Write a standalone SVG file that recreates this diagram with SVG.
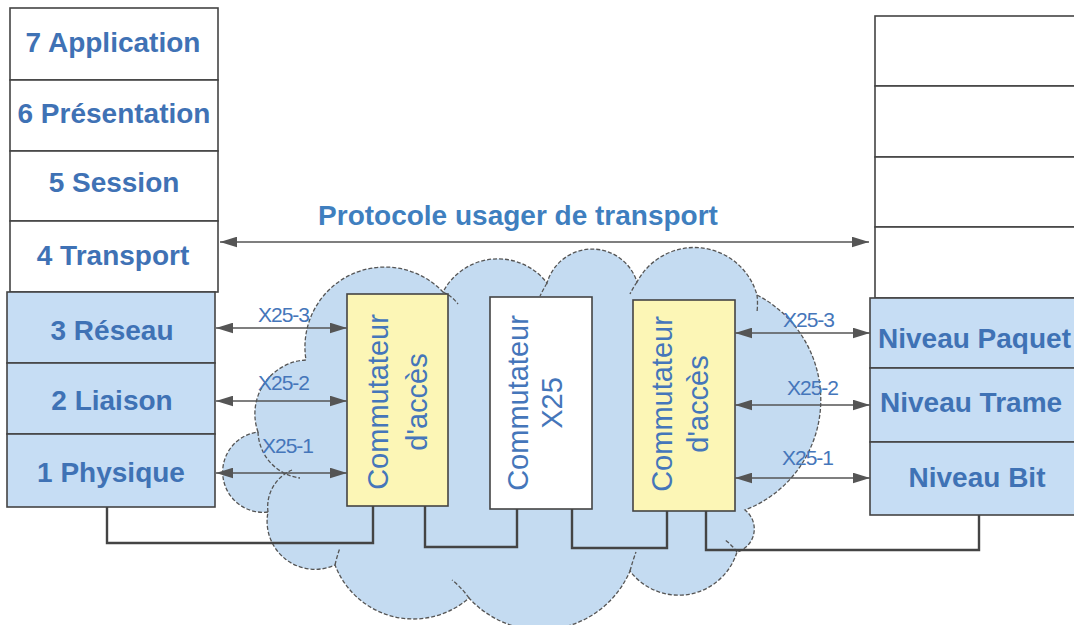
<svg xmlns="http://www.w3.org/2000/svg" width="1074" height="625" viewBox="0 0 1074 625">
<defs>
<marker id="ah" viewBox="0 0 16 10" refX="16" refY="5" markerWidth="17" markerHeight="11" markerUnits="userSpaceOnUse" orient="auto-start-reverse">
<path d="M0,0 L16,5 L0,10 z" fill="#555"/>
</marker>
<style>
.lay{stroke:#444;stroke-width:1.6}
.w{fill:#fff}
.b{fill:#c6ddf4}
.y{fill:#fcf6b6}
.t{font-family:"Liberation Sans",Arial,sans-serif;font-weight:bold;font-size:28px;fill:#3f72b5;text-anchor:middle}
.tl{font-family:"Liberation Sans",Arial,sans-serif;font-weight:bold;font-size:28px;fill:#3f72b5}
.sw{font-family:"Liberation Sans",Arial,sans-serif;font-size:29px;fill:#4576ba;text-anchor:middle}
.x{font-family:"Liberation Sans",Arial,sans-serif;font-size:21px;fill:#4576ba;letter-spacing:-1px}
.arr{stroke:#555;stroke-width:1.6;fill:none;marker-start:url(#ah);marker-end:url(#ah)}
.con{stroke:#444;stroke-width:2.4;fill:none}
.cl{fill:#c4dbf1;stroke:#555;stroke-width:1.3;stroke-dasharray:4 2}
.ci{fill:none;stroke:#555;stroke-width:1.3;stroke-dasharray:4 2}
</style>
</defs>
<rect width="1074" height="625" fill="#fff"/>

<g id="cloud">
<path class="cl" d="M258 432 A54 54 0 0 1 306 360 A80 80 0 0 1 443 292 A62 62 0 0 1 547 283 A47 47 0 0 1 637 282 A65 65 0 0 1 757 295 A118 118 0 0 1 745 510 A24 24 0 0 1 737 552 A61 61 0 0 1 630 571 A97 97 0 0 1 469 598 A84 84 0 0 1 335 565 A48 48 0 0 1 268 512 A37 37 0 0 1 258 432 Z"/>
<path class="ci" d="M258 432 A48 48 0 0 0 300 478"/>
<path class="ci" d="M268 512 A40 40 0 0 1 292 470"/>
<path class="ci" d="M443 292 Q452 296 458 304"/>
<path class="ci" d="M547 283 Q543 290 540 296"/>
<path class="ci" d="M637 282 Q633 288 630 294"/>
<path class="ci" d="M757 295 Q758 303 757 312"/>
<path class="ci" d="M630 571 Q633 560 636 552"/>
<path class="ci" d="M469 598 Q462 588 452 580"/>
<path class="ci" d="M335 565 Q337 556 340 548"/>
<path class="ci" d="M737 552 Q732 545 725 540"/>
</g>

<g id="left-stack">
<rect class="lay w" x="10" y="8" width="208" height="72"/>
<rect class="lay w" x="10" y="80" width="208" height="71"/>
<rect class="lay w" x="10" y="151" width="208" height="70"/>
<rect class="lay w" x="10" y="221" width="208" height="71"/>
<rect class="lay b" x="7" y="292" width="208" height="71"/>
<rect class="lay b" x="7" y="363" width="208" height="71"/>
<rect class="lay b" x="7" y="434" width="208" height="73"/>
<text class="t" x="113" y="52">7 Application</text>
<text class="t" x="114" y="123">6 Présentation</text>
<text class="t" x="114" y="192">5 Session</text>
<text class="t" x="113" y="265">4 Transport</text>
<text class="t" x="112" y="340">3 Réseau</text>
<text class="t" x="112" y="410">2 Liaison</text>
<text class="t" x="111" y="482">1 Physique</text>
</g>

<g id="right-stack">
<rect class="lay w" x="875" y="16" width="220" height="70"/>
<rect class="lay w" x="875" y="86" width="220" height="71"/>
<rect class="lay w" x="875" y="157" width="220" height="70"/>
<rect class="lay w" x="875" y="227" width="220" height="71"/>
<rect class="lay b" x="870" y="298" width="225" height="70"/>
<rect class="lay b" x="870" y="368" width="225" height="74"/>
<rect class="lay b" x="870" y="442" width="225" height="73"/>
<text class="tl" x="878" y="348">Niveau Paquet</text>
<text class="tl" x="880" y="412">Niveau Trame</text>
<text class="t" x="977" y="487">Niveau Bit</text>
</g>

<g id="switch-left">
<rect class="lay y" x="347" y="294" width="101" height="212"/>
<text class="sw" transform="translate(388,402) rotate(-90)">Commutateur</text>
<text class="sw" transform="translate(427,402) rotate(-90)">d'accès</text>
</g>

<g id="switch-x25">
<rect class="lay w" x="490" y="297" width="102" height="212"/>
<text class="sw" transform="translate(528,403) rotate(-90)">Commutateur</text>
<text class="sw" transform="translate(562,403) rotate(-90)">X25</text>
</g>

<g id="switch-right">
<rect class="lay y" x="633" y="300" width="102" height="211"/>
<text class="sw" transform="translate(672,404) rotate(-90)">Commutateur</text>
<text class="sw" transform="translate(708,404) rotate(-90)">d'accès</text>
</g>

<g id="connectors">
<line class="arr" x1="220" y1="242" x2="869" y2="242"/>
<line class="arr" x1="216" y1="328" x2="347" y2="328"/>
<line class="arr" x1="216" y1="401" x2="347" y2="401"/>
<line class="arr" x1="216" y1="473" x2="347" y2="473"/>
<line class="arr" x1="735" y1="333" x2="870" y2="333"/>
<line class="arr" x1="735" y1="405" x2="870" y2="405"/>
<line class="arr" x1="735" y1="478" x2="870" y2="478"/>
<polyline class="con" points="107,507 107,543 373,543 373,506"/>
<polyline class="con" points="425,506 425,547 517,547 517,509"/>
<polyline class="con" points="572,509 572,548 667,548 667,511"/>
<polyline class="con" points="706,511 706,550 979,550 979,515"/>
</g>

<g id="labels">
<text class="t" x="518" y="225" style="fill:#3f7fbf">Protocole usager de transport</text>
<text class="x" x="258" y="322">X25-3</text>
<text class="x" x="258" y="390">X25-2</text>
<text class="x" x="262" y="453">X25-1</text>
<text class="x" x="783" y="327">X25-3</text>
<text class="x" x="787" y="395">X25-2</text>
<text class="x" x="782" y="465">X25-1</text>
</g>
</svg>
